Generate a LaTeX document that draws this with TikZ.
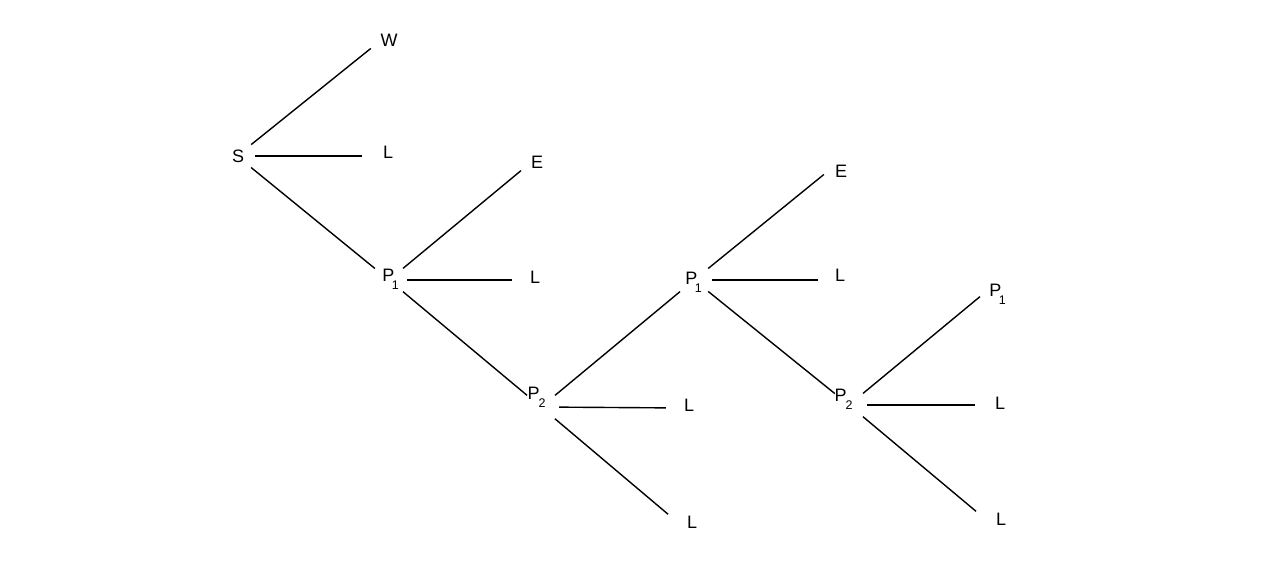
\documentclass[tikz,border=0pt]{standalone}
\usepackage{fontspec}
\setmainfont{Liberation Sans}
\newcommand\Pk[2]{P\kern#2\rlap{\smash{\raisebox{-8pt}{\fontsize{12.5}{12.5}\selectfont #1}}}}
\begin{document}
\begin{tikzpicture}[x=1pt,y=-1pt,
  pt/.style={circle,inner sep=0pt,minimum size=36pt},
  tx/.style={font=\fontsize{18}{21}\selectfont,inner sep=0pt},
  br/.style={draw=black,line width=1.4pt}]
\useasboundingbox (0,0) rectangle (1268,562);
\node[pt,label={[tx,xshift=1pt,yshift=0pt]center:S}] (S) at (237,156) {};
\node[pt,label={[tx,xshift=4pt,yshift=-3pt]center:W}] (W) at (385,37) {};
\node[pt,label={[tx,xshift=8pt,yshift=4pt]center:L}] (L1) at (380,156) {};
\node[pt,label={[tx,xshift=-2pt,yshift=5pt]center:\Pk{1}{-2.5pt}}] (P1a) at (389,280) {};
\node[pt,label={[tx,xshift=2pt,yshift=-3pt]center:E}] (E1) at (535,159) {};
\node[pt,label={[tx,xshift=5pt,yshift=3pt]center:L}] (L2) at (530,280) {};
\node[pt,label={[tx,xshift=-8pt,yshift=14pt]center:\Pk{2}{-1pt}}] (P2a) at (541,407) {};
\node[pt,label={[tx,xshift=-4pt,yshift=2pt]center:\Pk{1}{-2.5pt}}] (P1b) at (694,280) {};
\node[pt,label={[tx,xshift=5pt,yshift=3pt]center:L}] (L3) at (684,408) {};
\node[pt,label={[tx,xshift=10pt,yshift=4pt]center:L}] (L4) at (682,526) {};
\node[pt,label={[tx,xshift=3pt,yshift=-8pt]center:E}] (E2) at (838,163) {};
\node[pt,label={[tx,xshift=4pt,yshift=5pt]center:L}] (L5) at (836,280) {};
\node[pt,label={[tx,xshift=-9pt,yshift=10pt]center:\Pk{2}{-1pt}}] (P2b) at (849,405) {};
\node[pt,label={[tx,xshift=0pt,yshift=-5pt]center:\Pk{1}{-2.5pt}}] (P1c) at (994,285) {};
\node[pt,label={[tx,xshift=7pt,yshift=2pt]center:L}] (L6) at (993,405) {};
\node[pt,label={[tx,xshift=11pt,yshift=4pt]center:L}] (L7) at (990,523) {};
\draw[br] (S) -- (W);
\draw[br] (S) -- (L1);
\draw[br] (S) -- (P1a);
\draw[br] (P1a) -- (E1);
\draw[br] (P1a) -- (L2);
\draw[br] (P1a) -- (P2a);
\draw[br] (P2a) -- (P1b);
\draw[br] (P2a) -- (L3);
\draw[br] (P2a) -- (L4);
\draw[br] (P1b) -- (E2);
\draw[br] (P1b) -- (L5);
\draw[br] (P1b) -- (P2b);
\draw[br] (P2b) -- (P1c);
\draw[br] (P2b) -- (L6);
\draw[br] (P2b) -- (L7);
\end{tikzpicture}
\end{document}
